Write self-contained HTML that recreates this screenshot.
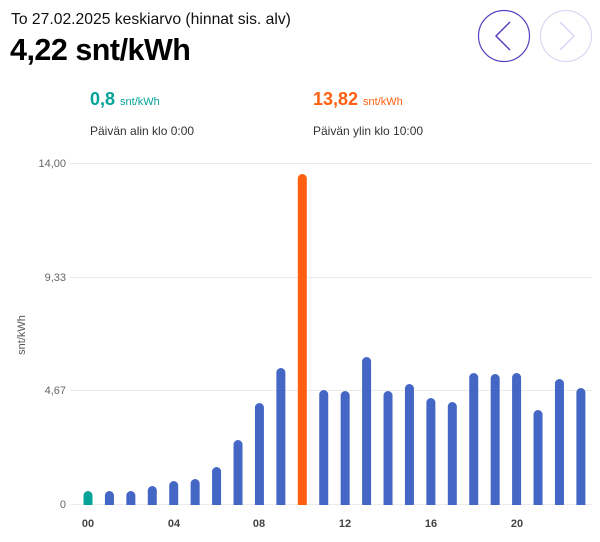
<!DOCTYPE html>
<html><head><meta charset="utf-8"><style>
body{margin:0;width:600px;height:542px;background:#fff;font-family:"Liberation Sans",sans-serif;position:relative;overflow:hidden}
.t{position:absolute;white-space:nowrap}
</style></head><body>
<div class="t" style="left:11px;top:11px;font-size:15.7px;color:#111">To 27.02.2025 keskiarvo (hinnat sis. alv)</div>
<div class="t" style="left:10px;top:33px;font-size:30.5px;font-weight:bold;color:#000;letter-spacing:-0.5px">4,22 snt/kWh</div>
<div class="t" style="left:90px;top:89px;font-size:18px;font-weight:bold;color:#06a398">0,8 <span style="font-size:11px;font-weight:normal">snt/kWh</span></div>
<div class="t" style="left:90px;top:124px;font-size:12px;color:#333">Päivän alin klo 0:00</div>
<div class="t" style="left:313px;top:89px;font-size:18px;font-weight:bold;color:#ff5f0f">13,82 <span style="font-size:11px;font-weight:normal">snt/kWh</span></div>
<div class="t" style="left:313px;top:124px;font-size:12px;color:#333">Päivän ylin klo 10:00</div>
<svg width="600" height="542" style="position:absolute;left:0;top:0">
<circle cx="504" cy="36" r="25.5" fill="none" stroke="#5b3fbf" stroke-width="1.2"/>
<polyline points="510,22 496,36 510,50" fill="none" stroke="#5b3fbf" stroke-width="1.5"/>
<circle cx="566" cy="36" r="25.5" fill="none" stroke="#ddd6f3" stroke-width="1.2"/>
<polyline points="560,22 574,36 560,50" fill="none" stroke="#ddd6f3" stroke-width="1.5"/>
<g stroke="#ebebeb" stroke-width="1">
<line x1="70" y1="163.5" x2="592" y2="163.5"/><line x1="70" y1="277.5" x2="592" y2="277.5"/>
<line x1="70" y1="390.5" x2="592" y2="390.5"/><line x1="70" y1="504.5" x2="592" y2="504.5"/></g>
<g font-size="11" fill="#666" text-anchor="end">
<text x="66" y="167">14,00</text><text x="66" y="281">9,33</text><text x="66" y="394">4,67</text><text x="66" y="508">0</text></g>
<text transform="translate(25,335) rotate(-90)" font-size="11" fill="#555" text-anchor="middle">snt/kWh</text>
<g font-size="11" font-weight="bold" fill="#444" text-anchor="middle">
<text x="88" y="527">00</text><text x="174" y="527">04</text><text x="259" y="527">08</text><text x="345" y="527">12</text><text x="431" y="527">16</text><text x="517" y="527">20</text></g>
<g id="bars"></g>
</svg>
<script>
var tops=[491,491,491,486,481,479,467,440,403,368,174,390,391,357,391,384,398,402,373,374,373,410,379,388];
var g=document.getElementById('bars'),s='';
tops.forEach(function(t,i){var x=88+i*21.43-4.5,c=i==0?'#06a398':i==10?'#ff5f0f':'#4466c4';
s+='<path d="M'+x+',505 L'+x+','+(t+4.5)+' A4.5,4.5 0 0 1 '+(x+9)+','+(t+4.5)+' L'+(x+9)+',505 Z" fill="'+c+'"/>';});
g.innerHTML=s;
</script>
</body></html>
